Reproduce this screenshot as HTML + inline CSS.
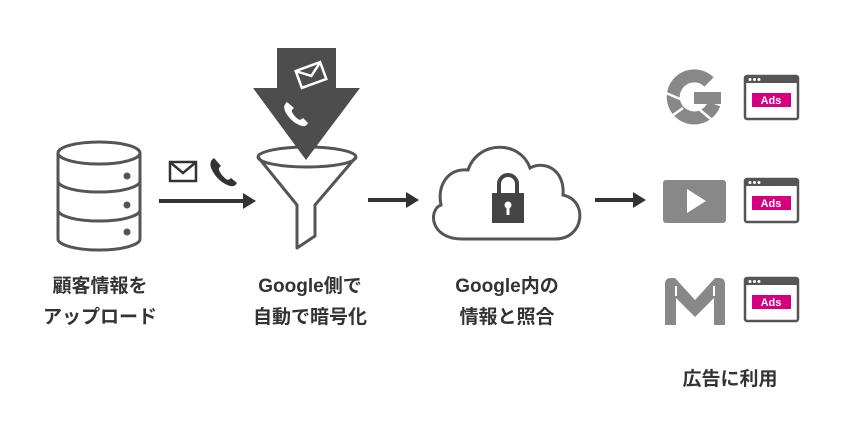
<!DOCTYPE html>
<html><head><meta charset="utf-8"><style>
body{margin:0;background:#fff;}
svg{display:block}
text{font-family:"Liberation Sans","Noto Sans CJK JP",sans-serif;font-weight:bold;fill:#333;font-size:19px;text-anchor:middle}
</style></head><body>
<svg width="850" height="425" viewBox="0 0 850 425" xmlns="http://www.w3.org/2000/svg">
<g fill="none" stroke="#555" stroke-width="3">
<path d="M58 153 v86 a41 11 0 0 0 82 0 v-86"/>
<ellipse cx="99" cy="153" rx="41" ry="11"/>
<path d="M58 181 a41 11 0 0 0 82 0"/>
<path d="M58 210 a41 11 0 0 0 82 0"/>
</g>
<g fill="#555"><circle cx="127" cy="176" r="3.5"/><circle cx="127" cy="205" r="3.5"/><circle cx="127" cy="232" r="3.5"/></g>
<rect x="170" y="162" width="26" height="19" fill="none" stroke="#333" stroke-width="2.5"/>
<path d="M171 163 l12 10 l12 -10" fill="none" stroke="#333" stroke-width="2.5"/>
<path d="M214 158 q-6 4 -2 12 q6 12 18 16 q5 1 7 -3 l-6 -5 q-3 3 -5 1 q-5 -4 -7 -9 q-1 -2 2 -4 z" fill="#333"/>
<path d="M159 199 h84 v-6 l13 8 l-13 8 v-6 h-84z" fill="#333"/>
<g fill="none" stroke="#555" stroke-width="3" stroke-linejoin="round">
<ellipse cx="307" cy="157" rx="49" ry="10"/>
<path d="M258 157 L297 205 V248 L315 236 V205 L356 157"/>
</g>
<path d="M277 48 h59 v40 h24 l-54 72 l-53 -72 h24z" fill="#4d4d4d"/>
<g transform="rotate(-20 311 75)">
<rect x="298" y="66" width="26" height="18" fill="none" stroke="#fff" stroke-width="2.5"/>
<path d="M299 67 l12 9 l12 -9" fill="none" stroke="#fff" stroke-width="2.5"/>
</g>
<path d="M287 102 q-5 4 -1 11 q6 10 16 13 q4 1 6 -3 l-5 -5 q-3 3 -5 1 q-4 -3 -6 -7 q-1 -2 2 -4 z" fill="#fff"/>
<path d="M368 198 h38 v-6 l13 8 l-13 8 v-6 h-38z" fill="#333"/>
<path d="M462 239 H555 C585 239 588 200 563 195 C565 170 545 160 530 168 C520 140 478 140 468 170 C448 168 437 185 441 205 C428 210 430 239 462 239 Z" fill="none" stroke="#555" stroke-width="3"/>
<path d="M499 194 v-10 a9 9 0 0 1 18 0 v10" fill="none" stroke="#444" stroke-width="4"/>
<rect x="492" y="193" width="32" height="30" fill="#444"/>
<circle cx="508" cy="205" r="3.5" fill="#fff"/><rect x="506.5" y="206" width="3" height="9" fill="#fff"/>
<path d="M595 198 h38 v-6 l13 8 l-13 8 v-6 h-38z" fill="#333"/>
<!-- G -->
<path d="M709 82 A21 21 0 1 0 714 104" fill="none" stroke="#888" stroke-width="13"/>
<rect x="694" y="92" width="27" height="12" fill="#888"/>
<path d="M666 93 l14 6 M669 118 l14 -10 M700 110 l12 10" stroke="#fff" stroke-width="2.5"/>
<rect x="663" y="180" width="63" height="43" rx="3" fill="#888"/>
<path d="M687 189 l19 12 l-19 12z" fill="#fff"/>
<path d="M665 284 q0 -6 6 -6 h4 l20 22 l20 -22 h4 q6 0 6 6 v41 h-11 v-27 l-19 19 l-19 -19 v27 h-11z" fill="#888"/>
<path d="M676 296 v-10 M714 296 v-10" stroke="#fff" stroke-width="2"/>
<g>
<rect x="745" y="76" width="53" height="43" rx="2" fill="#fff" stroke="#555" stroke-width="2.5"/>
<rect x="745" y="76" width="53" height="7" fill="#555"/>
<circle cx="750" cy="79.5" r="1.5" fill="#fff"/><circle cx="754.5" cy="79.5" r="1.5" fill="#fff"/><circle cx="759" cy="79.5" r="1.5" fill="#fff"/>
<rect x="752" y="93" width="39" height="14" fill="#d6007f"/>
<text x="771" y="104" style="fill:#fff;font-size:11px">Ads</text>
</g>
<g transform="translate(0,103)">
<rect x="745" y="76" width="53" height="43" rx="2" fill="#fff" stroke="#555" stroke-width="2.5"/>
<rect x="745" y="76" width="53" height="7" fill="#555"/>
<circle cx="750" cy="79.5" r="1.5" fill="#fff"/><circle cx="754.5" cy="79.5" r="1.5" fill="#fff"/><circle cx="759" cy="79.5" r="1.5" fill="#fff"/>
<rect x="752" y="93" width="39" height="14" fill="#d6007f"/>
<text x="771" y="104" style="fill:#fff;font-size:11px">Ads</text>
</g>
<g transform="translate(0,202)">
<rect x="745" y="76" width="53" height="43" rx="2" fill="#fff" stroke="#555" stroke-width="2.5"/>
<rect x="745" y="76" width="53" height="7" fill="#555"/>
<circle cx="750" cy="79.5" r="1.5" fill="#fff"/><circle cx="754.5" cy="79.5" r="1.5" fill="#fff"/><circle cx="759" cy="79.5" r="1.5" fill="#fff"/>
<rect x="752" y="93" width="39" height="14" fill="#d6007f"/>
<text x="771" y="104" style="fill:#fff;font-size:11px">Ads</text>
</g>
<text x="100" y="292">顧客情報を</text>
<text x="100" y="323">アップロード</text>
<text x="310" y="292">Google側で</text>
<text x="310" y="323">自動で暗号化</text>
<text x="507" y="292">Google内の</text>
<text x="507" y="323">情報と照合</text>
<text x="730" y="385">広告に利用</text>
</svg>
</body></html>
